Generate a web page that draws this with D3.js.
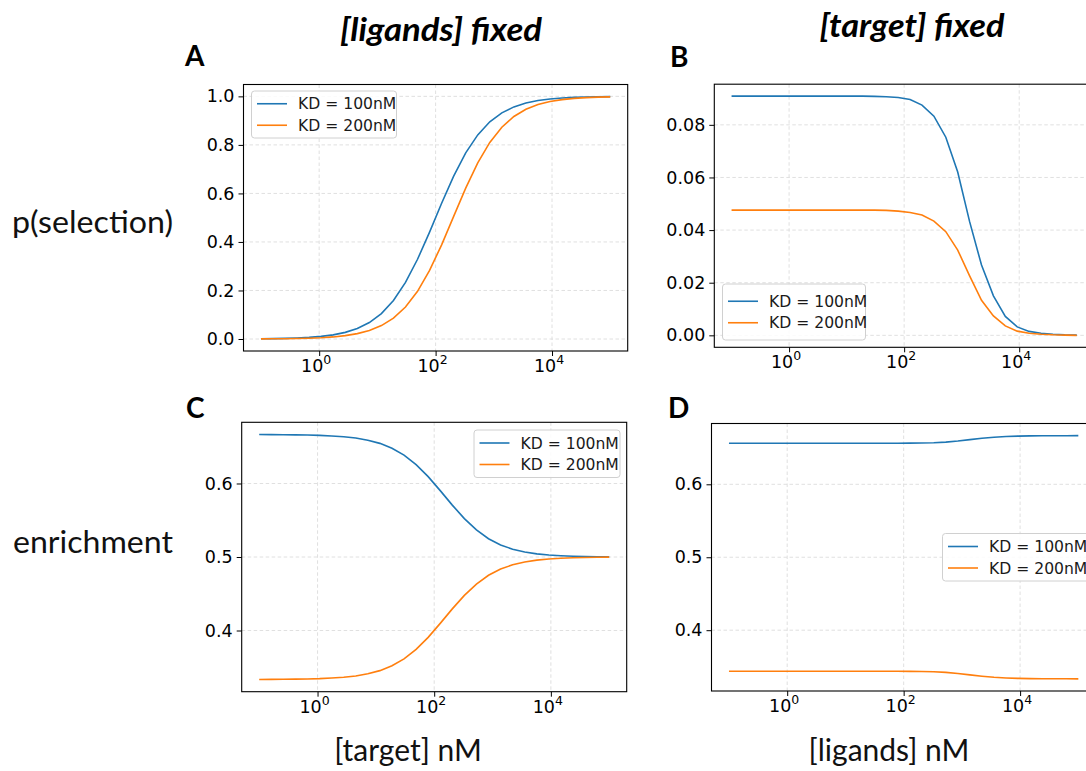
<!DOCTYPE html>
<html>
<head>
<meta charset="utf-8">
<script src="https://cdn.jsdelivr.net/npm/d3@7"></script>
<style>
  body { margin: 0; background: #fff; }
  svg { display: block; }
</style>
</head>
<body>
<div id="chart"></div>
<script>
// concentrations (nM), 30 log-spaced samples from 0.1 to 1e5
const concentrations = [0.1, 0.161, 0.2593, 0.4175, 0.6724, 1.083, 1.743, 2.807, 4.521, 7.279,
  11.72, 18.88, 30.39, 48.94, 78.80, 126.9, 204.3, 329.0, 529.8, 853.1,
  1374, 2212, 3562, 5736, 9237, 14874, 23950, 38566, 62102, 100000];

// A: p(selection), ligands fixed, vs [target]
const selTargetKD100 = [0.0010, 0.0016, 0.0026, 0.0042, 0.0067, 0.0107, 0.0171, 0.0273, 0.0432, 0.0678,
  0.1049, 0.1588, 0.2331, 0.3286, 0.4407, 0.5593, 0.6714, 0.7669, 0.8412, 0.8951,
  0.9322, 0.9567, 0.9727, 0.9829, 0.9893, 0.9933, 0.9958, 0.9974, 0.9984, 0.9990];
const selTargetKD200 = [0.0005, 0.0008, 0.0013, 0.0021, 0.0034, 0.0054, 0.0086, 0.0138, 0.0221, 0.0351,
  0.0554, 0.0862, 0.1319, 0.1966, 0.2826, 0.3882, 0.5053, 0.6219, 0.7260, 0.8101,
  0.8729, 0.9171, 0.9468, 0.9663, 0.9788, 0.9867, 0.9917, 0.9948, 0.9968, 0.9980];

// B: p(selection), target fixed, vs [ligands]
const selLigandKD100 = [0.0909, 0.0909, 0.0909, 0.0909, 0.0909, 0.0909, 0.0909, 0.0909, 0.0909, 0.0909,
  0.0909, 0.0909, 0.0908, 0.0907, 0.0904, 0.0896, 0.0875, 0.0833, 0.0753, 0.0621,
  0.0432, 0.0267, 0.0150, 0.0072, 0.0032, 0.0015, 0.0008, 0.0004, 0.0002, 0.0001];
const selLigandKD200 = [0.0476, 0.0476, 0.0476, 0.0476, 0.0476, 0.0476, 0.0476, 0.0476, 0.0476, 0.0476,
  0.0476, 0.0476, 0.0476, 0.0475, 0.0472, 0.0467, 0.0457, 0.0434, 0.0394, 0.0324,
  0.0226, 0.0133, 0.0074, 0.0036, 0.0016, 0.0008, 0.0004, 0.0002, 0.0001, 0.0000];

// C: enrichment, ligands fixed, vs [target]
const enrTargetKD100 = [0.6666, 0.6665, 0.6664, 0.6662, 0.6659, 0.6655, 0.6647, 0.6636, 0.6618, 0.6589,
  0.6546, 0.6480, 0.6386, 0.6257, 0.6093, 0.5903, 0.5706, 0.5522, 0.5368, 0.5249,
  0.5164, 0.5106, 0.5067, 0.5042, 0.5027, 0.5017, 0.5010, 0.5006, 0.5004, 0.5002];
const enrTargetKD200 = [0.3334, 0.3335, 0.3336, 0.3338, 0.3341, 0.3345, 0.3353, 0.3364, 0.3382, 0.3411,
  0.3454, 0.3520, 0.3614, 0.3743, 0.3907, 0.4097, 0.4294, 0.4478, 0.4632, 0.4751,
  0.4836, 0.4894, 0.4933, 0.4958, 0.4973, 0.4983, 0.4990, 0.4994, 0.4996, 0.4998];

// D: enrichment, target fixed, vs [ligands]
const enrLigandKD100 = [0.6563, 0.6563, 0.6563, 0.6563, 0.6563, 0.6563, 0.6563, 0.6563, 0.6563, 0.6563,
  0.6563, 0.6563, 0.6563, 0.6563, 0.6563, 0.6564, 0.6566, 0.6570, 0.6579, 0.6594,
  0.6613, 0.6631, 0.6646, 0.6655, 0.6661, 0.6664, 0.6665, 0.6666, 0.6666, 0.6667];
const enrLigandKD200 = [0.3437, 0.3437, 0.3437, 0.3437, 0.3437, 0.3437, 0.3437, 0.3437, 0.3437, 0.3437,
  0.3437, 0.3437, 0.3437, 0.3437, 0.3437, 0.3436, 0.3434, 0.3430, 0.3421, 0.3406,
  0.3387, 0.3369, 0.3354, 0.3345, 0.3339, 0.3336, 0.3335, 0.3334, 0.3334, 0.3333];

const seriesNames = ["KD = 100nM", "KD = 200nM"];
const colors = ["#1f77b4", "#ff7f0e"];
const xTickValues = [1, 100, 10000];
const xTickExponents = ["0", "2", "4"];

const W = 1086, H = 771;
const svg = d3.select("#chart").append("svg")
    .attr("width", W)
    .attr("height", H);

const panels = [
  { letter: "A", series: [selTargetKD100, selTargetKD200], yTicks: [0, 0.2, 0.4, 0.6, 0.8, 1.0], yFmt: ".1f",
    box: { left: 243.5, right: 627.7, top: 84.5, bottom: 351 },
    legend: { x: 251.5, y: 91, w: 145, h: 47 },
    letterPos: [185, 66] },
  { letter: "B", series: [selLigandKD100, selLigandKD200], yTicks: [0, 0.02, 0.04, 0.06, 0.08], yFmt: ".2f",
    box: { left: 714.3, right: 1094, top: 84.2, bottom: 347.3 },
    legend: { x: 722.5, y: 284, w: 143, h: 56 },
    letterPos: [670, 67] },
  { letter: "C", series: [enrTargetKD100, enrTargetKD200], yTicks: [0.4, 0.5, 0.6], yFmt: ".1f",
    box: { left: 241.7, right: 626.7, top: 422.3, bottom: 691.7 },
    legend: { x: 474, y: 430, w: 146, h: 47.5 },
    letterPos: [186, 418] },
  { letter: "D", series: [enrLigandKD100, enrLigandKD200], yTicks: [0.4, 0.5, 0.6], yFmt: ".1f",
    box: { left: 711.5, right: 1095.8, top: 423.5, bottom: 691 },
    legend: { x: 942.5, y: 533.5, w: 150, h: 47.5 },
    letterPos: [668, 418] }
];

panels.forEach(p => {
    const b = p.box;
    const g = svg.append("g");

    // log x axis, matplotlib-style 5% margins in log space
    const x = d3.scaleLog()
        .domain([Math.pow(10, -1.3), Math.pow(10, 5.3)])
        .range([b.left, b.right]);

    const allVals = p.series.flat();
    const lo = d3.min(allVals), hi = d3.max(allVals);
    const pad = (hi - lo) * 0.05;
    const y = d3.scaleLinear()
        .domain([lo - pad, hi + pad])
        .range([b.bottom, b.top]);

    const clipId = "clip" + p.letter;
    g.append("clipPath").attr("id", clipId)
      .append("rect")
        .attr("x", b.left).attr("y", b.top)
        .attr("width", b.right - b.left).attr("height", b.bottom - b.top);

    // grid
    g.selectAll(".vgrid")
        .data(xTickValues)
      .enter().append("line")
        .attr("x1", d => x(d)).attr("x2", d => x(d))
        .attr("y1", b.top).attr("y2", b.bottom)
        .attr("stroke", "#dcdcdc")
        .attr("stroke-width", 0.9)
        .attr("stroke-dasharray", "3.5,2.5");

    g.selectAll(".hgrid")
        .data(p.yTicks)
      .enter().append("line")
        .attr("x1", b.left).attr("x2", b.right)
        .attr("y1", d => y(d)).attr("y2", d => y(d))
        .attr("stroke", "#dcdcdc")
        .attr("stroke-width", 0.9)
        .attr("stroke-dasharray", "3.5,2.5");

    // lines
    const line = d3.line()
        .x((d, i) => x(concentrations[i]))
        .y(d => y(d));

    p.series.forEach((s, i) => {
        g.append("path")
            .datum(s)
            .attr("clip-path", "url(#" + clipId + ")")
            .attr("fill", "none")
            .attr("stroke", colors[i])
            .attr("stroke-width", 1.6)
            .attr("d", line);
    });

    // y axis
    const yAxis = d3.axisLeft(y)
        .tickValues(p.yTicks)
        .tickSize(5)
        .tickPadding(4)
        .tickFormat(d3.format(p.yFmt));

    g.append("g")
        .attr("transform", "translate(" + b.left + ",0)")
        .call(yAxis)
        .call(a => a.select(".domain").remove())
        .call(a => a.selectAll("text")
            .attr("font-family", "DejaVu Sans")
            .attr("font-size", 17.5)
            .attr("fill", "#000"));

    // x axis with superscript labels
    const xAxis = d3.axisBottom(x)
        .tickValues(xTickValues)
        .tickSize(5)
        .tickFormat("");

    const xg = g.append("g")
        .attr("transform", "translate(0," + b.bottom + ")")
        .call(xAxis)
        .call(a => a.select(".domain").remove());

    xTickValues.forEach((v, i) => {
        const t = xg.append("text")
            .attr("x", x(v) - 3)
            .attr("y", 21)
            .attr("text-anchor", "middle")
            .attr("font-family", "DejaVu Sans")
            .attr("font-size", 17.5)
            .attr("fill", "#000");
        t.append("tspan").text("10");
        t.append("tspan")
            .attr("dy", -8)
            .attr("font-size", 12.5)
            .text(xTickExponents[i]);
    });

    // spines
    g.append("rect")
        .attr("x", b.left).attr("y", b.top)
        .attr("width", b.right - b.left).attr("height", b.bottom - b.top)
        .attr("fill", "none")
        .attr("stroke", "#000")
        .attr("stroke-width", 1.1);

    // legend
    const L = p.legend;
    const lg = g.append("g").attr("transform", "translate(" + L.x + "," + L.y + ")");
    lg.append("rect")
        .attr("width", L.w).attr("height", L.h)
        .attr("rx", 3)
        .attr("fill", "#fff").attr("fill-opacity", 0.85)
        .attr("stroke", "#d0d0d0");
    seriesNames.forEach((name, i) => {
        const yy = L.h / 2 + (i - 0.5) * 21.5;
        lg.append("line")
            .attr("x1", 5.5).attr("x2", 35.5)
            .attr("y1", yy).attr("y2", yy)
            .attr("stroke", colors[i])
            .attr("stroke-width", 1.6);
        lg.append("text")
            .attr("x", 46.5).attr("y", yy)
            .attr("dy", "0.36em")
            .attr("font-family", "DejaVu Sans")
            .attr("font-size", 15.6)
            .attr("fill", "#1a1a1a")
            .text(name);
    });

    // panel letter
    svg.append("text")
        .attr("x", p.letterPos[0]).attr("y", p.letterPos[1])
        .attr("font-family", "Lato")
        .attr("font-weight", "bold")
        .attr("font-size", 28)
        .text(p.letter);
});

// column titles
const titles = [
  { text: "[ligands] fixed", x: 441, y: 41, len: 202 },
  { text: "[target] fixed", x: 912, y: 37, len: 185 }
];
svg.selectAll(".coltitle")
    .data(titles)
  .enter().append("text")
    .attr("x", d => d.x).attr("y", d => d.y)
    .attr("text-anchor", "middle")
    .attr("font-family", "Lato")
    .attr("font-style", "italic")
    .attr("font-weight", "bold")
    .attr("font-size", 33)
    .attr("textLength", d => d.len)
    .attr("lengthAdjust", "spacingAndGlyphs")
    .text(d => d.text);

// row labels
const rowLabels = [
  { text: "p(selection)", x: 12, y: 233, len: 161 },
  { text: "enrichment", x: 13, y: 553, len: 160 }
];
svg.selectAll(".rowlabel")
    .data(rowLabels)
  .enter().append("text")
    .attr("x", d => d.x).attr("y", d => d.y)
    .attr("font-family", "Lato")
    .attr("font-size", 31)
    .attr("fill", "#111")
    .attr("textLength", d => d.len)
    .attr("lengthAdjust", "spacingAndGlyphs")
    .text(d => d.text);

// x labels
const xLabels = [
  { text: "[target] nM", x: 408, y: 761 },
  { text: "[ligands] nM", x: 889, y: 761 }
];
svg.selectAll(".xlabel")
    .data(xLabels)
  .enter().append("text")
    .attr("x", d => d.x).attr("y", d => d.y)
    .attr("text-anchor", "middle")
    .attr("font-family", "Lato")
    .attr("font-size", 30)
    .attr("fill", "#111")
    .text(d => d.text);
</script>
</body>
</html>
